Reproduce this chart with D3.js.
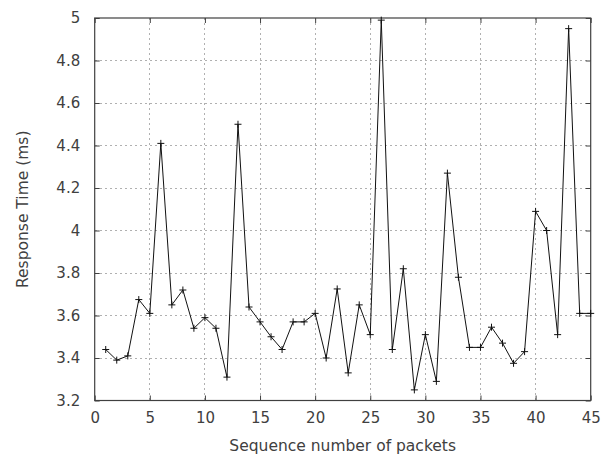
<!DOCTYPE html>
<html><head><meta charset="utf-8">
<script src="https://cdn.jsdelivr.net/npm/d3@7"></script>
<style>body{margin:0;background:#fff}svg{display:block}text{font-family:"DejaVu Sans",sans-serif;fill:#404040}</style>
</head><body>
<svg id="c" width="601" height="459"></svg>
<script>
const seq = d3.range(1, 46);
const responseTime = [3.44,3.39,3.41,3.675,3.61,4.41,3.65,3.72,3.54,3.59,3.54,3.31,4.50,3.64,3.57,3.50,3.44,3.57,3.57,3.61,3.40,3.725,3.33,3.65,3.51,4.99,3.44,3.82,3.25,3.51,3.29,4.27,3.78,3.45,3.45,3.545,3.47,3.375,3.43,4.09,4.0,3.51,4.95,3.61,3.61];
const xTicks = [0,5,10,15,20,25,30,35,40,45];
const yTicks = [3.2,3.4,3.6,3.8,4.0,4.2,4.4,4.6,4.8,5.0];

const L = 94.7, R = 590.7, T = 18, B = 400.5;
const svg = d3.select("#c");
const x = d3.scaleLinear().domain([0,45]).range([L,R]);
const y = d3.scaleLinear().domain([3.2,5]).range([B,T]);
const fmtY = v => (Math.round(v*10)/10).toString();

// grid
const g = svg.append("g");
g.selectAll(".gx").data(xTicks.slice(1,-1)).enter().append("line")
  .attr("x1",d=>x(d)).attr("x2",d=>x(d)).attr("y1",T).attr("y2",B)
  .attr("stroke","#b0b0b0").attr("stroke-width",1).attr("stroke-dasharray","2,3").attr("shape-rendering","crispEdges");
g.selectAll(".gy").data(yTicks.slice(1,-1)).enter().append("line")
  .attr("y1",d=>y(d)).attr("y2",d=>y(d)).attr("x1",L).attr("x2",R)
  .attr("stroke","#b0b0b0").attr("stroke-width",1).attr("stroke-dasharray","2,3").attr("shape-rendering","crispEdges");

// axes with inward ticks
const tk = 5;
const fs = 15;
const axB = svg.append("g").attr("transform",`translate(0,${B})`)
  .call(d3.axisBottom(x).tickValues(xTicks).tickSize(-tk).tickPadding(11.8).tickFormat(d3.format("d")));
const axT = svg.append("g").attr("transform",`translate(0,${T})`)
  .call(d3.axisTop(x).tickValues(xTicks).tickSize(-tk).tickFormat(""));
const axL = svg.append("g").attr("transform",`translate(${L},0)`)
  .call(d3.axisLeft(y).tickValues(yTicks).tickSize(-tk).tickPadding(14.5).tickFormat(fmtY));
const axR = svg.append("g").attr("transform",`translate(${R},0)`)
  .call(d3.axisRight(y).tickValues(yTicks).tickSize(-tk).tickFormat(""));
[axB,axT,axL,axR].forEach(a=>{
  a.select(".domain").remove();
  a.selectAll("line").attr("stroke","#404040");
  a.selectAll("text").attr("font-size",fs).attr("font-family","DejaVu Sans").attr("fill","#404040");
});
svg.append("rect").attr("x",L).attr("y",T).attr("width",R-L).attr("height",B-T)
  .attr("fill","none").attr("stroke","#404040").attr("stroke-width",1.2);

// line
const data = seq.map((s,i)=>({s, v: responseTime[i]}));
svg.append("path").datum(data)
  .attr("d", d3.line().x(d=>x(d.s)).y(d=>y(d.v)))
  .attr("fill","none").attr("stroke","#111").attr("stroke-width",1);
const m = 3.5;
svg.append("g").selectAll("path").data(data).enter().append("path")
  .attr("d", d=>`M${x(d.s)-m},${y(d.v)}H${x(d.s)+m}M${x(d.s)},${y(d.v)-m}V${y(d.v)+m}`)
  .attr("stroke","#111").attr("stroke-width",1);

// labels
svg.append("text").attr("x",(L+R)/2).attr("y",451).attr("text-anchor","middle")
  .attr("font-size",15.5).text("Sequence number of packets");
svg.append("text").attr("transform",`translate(28,${(T+B)/2}) rotate(-90)`).attr("text-anchor","middle")
  .attr("font-size",15.5).text("Response Time (ms)");
</script>
</body></html>
